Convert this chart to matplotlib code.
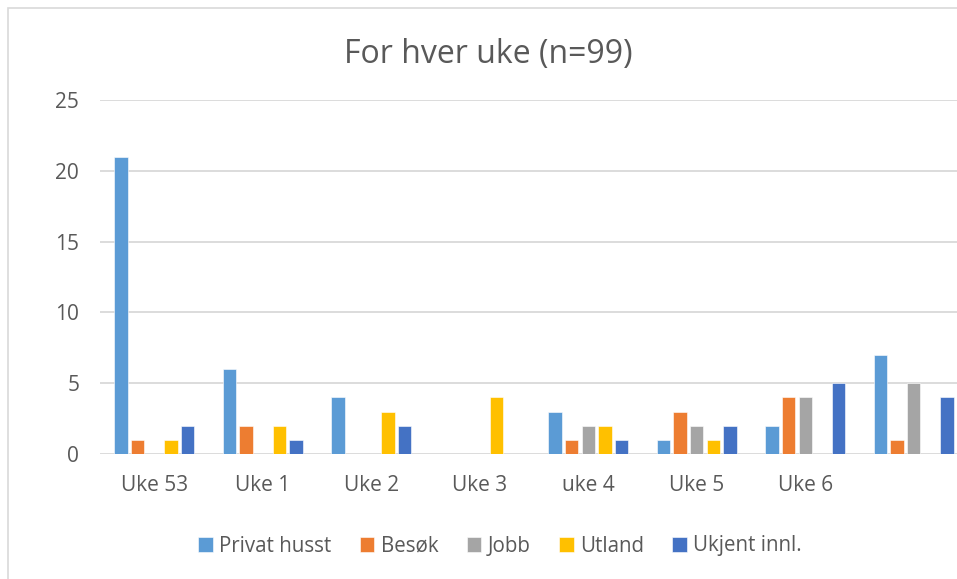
import numpy as np
import matplotlib.pyplot as plt
from matplotlib.patches import Rectangle

weeks = ["Uke 53", "Uke 1", "Uke 2", "Uke 3", "uke 4", "Uke 5", "Uke 6", ""]
series = ["Privat husst", "Besøk", "Jobb", "Utland", "Ukjent innl."]
privat = [21, 6, 4, 0, 3, 1, 2, 7]
besok = [1, 2, 0, 0, 1, 3, 4, 1]
jobb = [0, 0, 0, 0, 2, 2, 4, 5]
utland = [1, 2, 3, 4, 2, 1, 0, 0]
ukjent = [2, 1, 2, 0, 1, 2, 5, 4]
colors = ["#5B9BD5", "#ED7D31", "#A5A5A5", "#FFC000", "#4472C4"]

plt.rcParams['font.family'] = ['Open Sans', 'DejaVu Sans']
text_col = "#595959"

fig = plt.figure(figsize=(9.57, 5.79), dpi=100)
# chart border (cropped on the right and bottom)
fig.patches.append(Rectangle((8 / 957, -0.1), 1.2, 1 - 8 / 579 + 0.1,
                             transform=fig.transFigure, fill=False,
                             edgecolor="#d9d9d9", linewidth=1.2))

ax = fig.add_axes([100 / 957, 125 / 579, 868 / 957, 354 / 579])

x = np.arange(len(weeks))
slot = 0.154
width = 0.124
for i, (vals, name) in enumerate(zip([privat, besok, jobb, utland, ukjent], series)):
    ax.bar(x + (i - 2) * slot, vals, width, color=colors[i], label=name,
           edgecolor="white", linewidth=0.4, zorder=3)

ax.set_xlim(-0.5, len(weeks) - 0.5)
ax.set_ylim(0, 25)
ax.set_yticks(range(0, 26, 5))
ax.yaxis.grid(True, color="#d9d9d9", linewidth=1.3, zorder=0)
ax.set_xticks(x)
ax.set_xticklabels(weeks)
ax.tick_params(axis="both", length=0, labelsize=15, colors=text_col)
ax.tick_params(axis="x", pad=15)
ax.tick_params(axis="y", pad=15)
for s in ax.spines.values():
    s.set_visible(False)

fig.text(488 / 957, 1 - 54 / 579, "For hver uke (n=99)", ha="center", va="center",
         fontsize=23, color=text_col)

fig.legend(loc="center", bbox_to_anchor=(500 / 957, 1 - 546 / 579), ncol=5,
           frameon=False, fontsize=14.8, labelcolor=text_col,
           handlelength=0.7, handleheight=0.7, handletextpad=0.3, columnspacing=1.4)

fig.savefig("out.png", dpi=100)
